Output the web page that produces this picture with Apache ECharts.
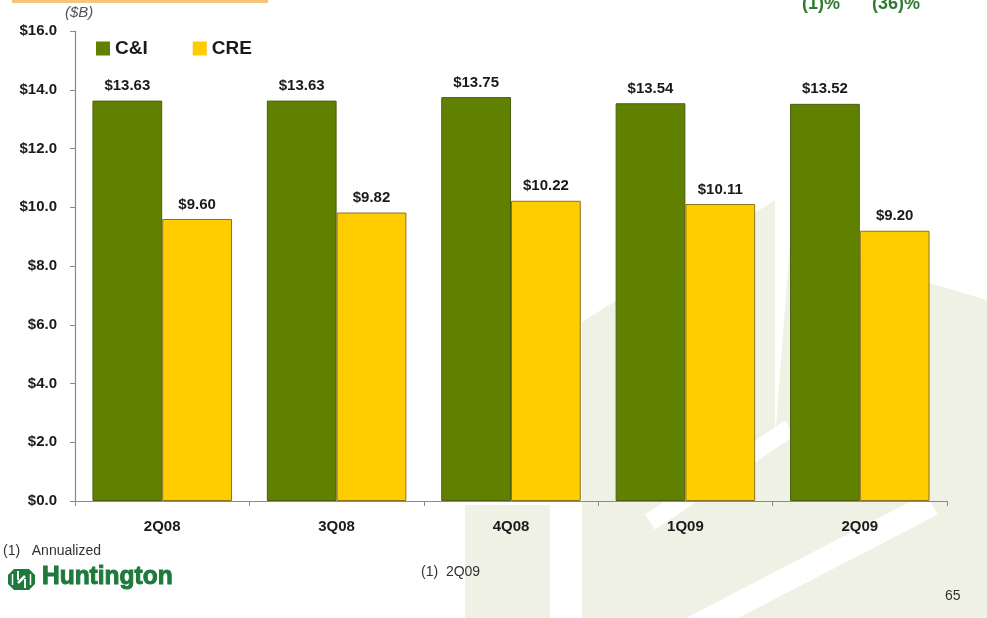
<!DOCTYPE html>
<html>
<head>
<meta charset="utf-8">
<title>C&amp;I and CRE loans</title>
<script src="https://cdn.jsdelivr.net/npm/echarts@6/dist/echarts.min.js"></script>
<style>
  html, body { margin: 0; padding: 0; background: #ffffff; }
  #chart { width: 987px; height: 618px; }
</style>
</head>
<body>
<div id="chart"></div>
<script>
// Quarter-end balances, $ billions
const categories = ['2Q08', '3Q08', '4Q08', '1Q09', '2Q09'];
const ciValues = [13.63, 13.63, 13.75, 13.54, 13.52];
const creValues = [9.60, 9.82, 10.22, 10.11, 9.20];
const seriesNames = ['C&I', 'CRE'];
const yMin = 0, yMax = 16, yStep = 2;

const FONT = '"Liberation Sans", Arial, sans-serif';
const GREEN = '#608000';
const YELLOW = '#ffcc00';
const WASH = '#eff1e5';
const BRAND = '#1e7a3c';

const chart = echarts.init(document.getElementById('chart'), null, { renderer: 'canvas' });

const labelStyle = {
  show: true,
  position: 'top',
  distance: 7,
  color: '#1a1a1a',
  fontFamily: FONT,
  fontWeight: 'bold',
  fontSize: 15,
  formatter: p => '$' + p.value.toFixed(2)
};

// Light watermark shapes behind the plot
const wash = [
  { type: 'rect', shape: { x: 465, y: 505, width: 85, height: 113 } },
  { type: 'polygon', shape: { points: [[582, 322], [775, 200], [775, 618], [582, 618]] } },
  { type: 'polygon', shape: { points: [[790, 242], [987, 300], [987, 618], [775, 618], [775, 440]] } }
].map(e => Object.assign(e, { z: -10, silent: true, style: { fill: WASH } }));

const stripes = [
  { shape: { x1: 650, y1: 522, x2: 790, y2: 428 }, lw: 18 },
  { shape: { x1: 685, y1: 632, x2: 932, y2: 504 }, lw: 24 }
].map(e => ({ type: 'line', z: -9, silent: true, shape: e.shape, style: { stroke: '#ffffff', lineWidth: e.lw } }));

// Bank mark beside the wordmark
const mx = 8, my = 569, mw = 27, mh = 21;
const mark = [
  { type: 'polygon', z: 5, shape: { points: [[mx + 6, my], [mx + mw - 6, my], [mx + mw, my + 6], [mx + mw, my + mh - 6], [mx + mw - 6, my + mh], [mx + 6, my + mh], [mx, my + mh - 6], [mx, my + 6]] }, style: { fill: BRAND } },
  { type: 'line', z: 6, shape: { x1: mx + 4.5, y1: my + 5, x2: mx + 4.5, y2: my + 16 }, style: { stroke: '#fff', lineWidth: 1.5 } },
  { type: 'line', z: 6, shape: { x1: mx + 22.5, y1: my + 5, x2: mx + 22.5, y2: my + 16 }, style: { stroke: '#fff', lineWidth: 1.5 } },
  { type: 'line', z: 6, shape: { x1: mx + 10, y1: my + 2, x2: mx + 10, y2: my + 11 }, style: { stroke: '#fff', lineWidth: 2 } },
  { type: 'line', z: 6, shape: { x1: mx + 17, y1: my + 10, x2: mx + 17, y2: my + 19 }, style: { stroke: '#fff', lineWidth: 2 } },
  { type: 'line', z: 6, shape: { x1: mx + 10, y1: my + 14, x2: mx + 17, y2: my + 7 }, style: { stroke: '#fff', lineWidth: 2.5 } }
];

const texts = [
  { type: 'rect', z: 5, shape: { x: 12, y: 0, width: 256, height: 3 }, style: { fill: '#f7c47e' } },
  { type: 'text', z: 5, left: 65, top: 5, style: { text: '($B)', fill: '#555', font: 'italic 15px ' + FONT } },
  { type: 'text', z: 5, x: 821, y: 13, style: { text: '(1)%', fill: '#2e7a30', font: 'bold 18px ' + FONT, textAlign: 'center', textVerticalAlign: 'bottom' } },
  { type: 'text', z: 5, x: 896, y: 13, style: { text: '(36)%', fill: '#2e7a30', font: 'bold 18px ' + FONT, textAlign: 'center', textVerticalAlign: 'bottom' } },
  { type: 'text', z: 5, left: 3, top: 544, style: { text: '(1)   Annualized', fill: '#333', font: '14px ' + FONT } },
  { type: 'text', z: 5, left: 421, top: 565, style: { text: '(1)  2Q09', fill: '#333', font: '14px ' + FONT } },
  { type: 'text', z: 5, left: 945, top: 589, style: { text: '65', fill: '#333', font: '14px ' + FONT } },
  { type: 'text', z: 5, x: 42, y: 565, scaleX: 0.98, style: { text: 'Huntington', fill: BRAND, stroke: BRAND, lineWidth: 1, font: 'bold 25px ' + FONT, textVerticalAlign: 'top' } }
];

chart.setOption({
  animation: false,
  backgroundColor: '#ffffff',
  textStyle: { fontFamily: FONT },
  graphic: { elements: wash.concat(stripes, mark, texts) },
  grid: { left: 75, right: 40, top: 31, bottom: 117, containLabel: false },
  legend: {
    data: seriesNames,
    left: 91,
    top: 34,
    icon: 'rect',
    itemWidth: 14,
    itemHeight: 14,
    itemGap: 45,
    itemStyle: { borderWidth: 0 },
    textStyle: { fontFamily: FONT, fontWeight: 'bold', fontSize: 19, color: '#1a1a1a' }
  },
  xAxis: {
    type: 'category',
    data: categories,
    axisLine: { lineStyle: { color: '#8a8a8a', width: 1.2 } },
    axisTick: { show: true, length: 5, lineStyle: { color: '#8a8a8a' } },
    axisLabel: { margin: 18, color: '#1a1a1a', fontFamily: FONT, fontWeight: 'bold', fontSize: 15 }
  },
  yAxis: {
    type: 'value',
    min: yMin,
    max: yMax,
    interval: yStep,
    splitLine: { show: false },
    axisLine: { show: true, lineStyle: { color: '#8a8a8a', width: 1.2 } },
    axisTick: { show: true, length: 5, lineStyle: { color: '#8a8a8a' } },
    axisLabel: { margin: 18, color: '#1a1a1a', fontFamily: FONT, fontWeight: 'bold', fontSize: 15, formatter: v => '$' + v.toFixed(1) }
  },
  series: [
    {
      name: seriesNames[0],
      type: 'bar',
      data: ciValues,
      barGap: '0%',
      barCategoryGap: '20%',
      itemStyle: { color: GREEN, borderColor: '#4d5e10', borderWidth: 1 },
      label: labelStyle
    },
    {
      name: seriesNames[1],
      type: 'bar',
      data: creValues,
      barGap: '0%',
      barCategoryGap: '20%',
      itemStyle: { color: YELLOW, borderColor: '#8a7420', borderWidth: 1 },
      label: labelStyle
    }
  ]
});
</script>
</body>
</html>
